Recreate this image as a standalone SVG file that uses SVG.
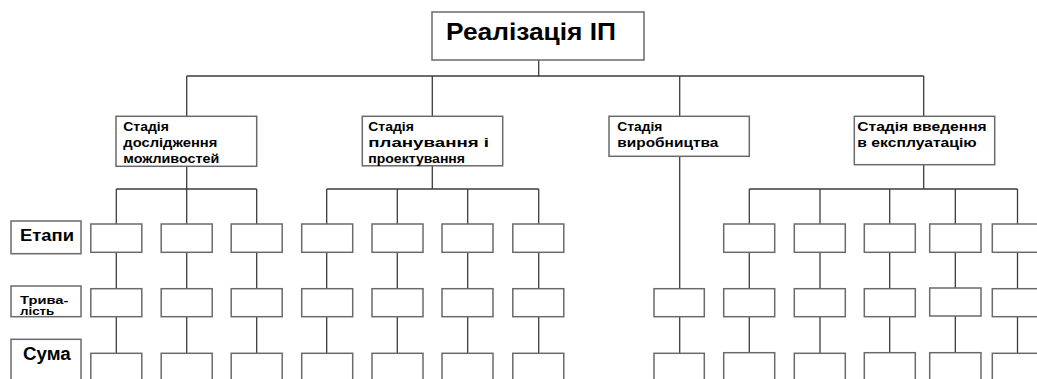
<svg xmlns="http://www.w3.org/2000/svg" width="1037" height="379" viewBox="0 0 1037 379">
<style>
.bx{fill:#fff;stroke:#6a6a6a;stroke-width:1.5}
.ln{fill:none;stroke:#3c3c3c;stroke-width:1.3}
.t{font-family:"Liberation Sans",Arial,sans-serif;font-weight:bold;fill:#000}
.st{font-size:13.5px}
</style>
<rect width="1037" height="379" fill="#fff"/>
<g id="connectors" class="ln">
<path d="M538.7 60V76M186.7 76H923.7M186.7 76V116.3M432.3 76V116.3M679.7 76V116.3M923.7 76V116.3"/>
<path d="M186.7 166.3V189M116.3 189H256.7M116.3 189V353.3M186.7 189V353.3M256.7 189V353.3"/>
<path d="M432.3 166V189M326.7 189H538.7M326.7 189V353.3M397.3 189V353.3M467.7 189V353.3M538.7 189V353.3"/>
<path d="M679.7 156.3V353.3"/>
<path d="M923.7 164.7V189M749.3 189H1017.5M749.3 189V353.3M820 189V353.3M889.7 189V353.3M955.3 189V353.3M1017.5 189V353.3"/>
</g>
<g id="title"><rect class="bx" x="432" y="12" width="212" height="48"/><text class="t" x="446" y="40" font-size="24" textLength="170" lengthAdjust="spacingAndGlyphs">Реалізація ІП</text></g>
<g id="stage1"><rect class="bx" x="116" y="116.3" width="140.7" height="50"/>
<text class="t st" x="123.3" y="131" textLength="45.5" lengthAdjust="spacingAndGlyphs">Стадія</text>
<text class="t st" x="123.3" y="147.3" textLength="94" lengthAdjust="spacingAndGlyphs">дослідження</text>
<text class="t st" x="123.3" y="163.2" textLength="96" lengthAdjust="spacingAndGlyphs">можливостей</text></g>
<g id="stage2"><rect class="bx" x="362.3" y="116.3" width="140.4" height="49.5"/>
<text class="t st" x="368.3" y="130.8" textLength="45.5" lengthAdjust="spacingAndGlyphs">Стадія</text>
<text class="t st" x="368.3" y="147.3" textLength="120.7" lengthAdjust="spacingAndGlyphs">планування і</text>
<text class="t st" x="368.3" y="163.2" textLength="96.7" lengthAdjust="spacingAndGlyphs">проектування</text></g>
<g id="stage3"><rect class="bx" x="609" y="116.3" width="140.3" height="40"/>
<text class="t st" x="617.3" y="130.8" textLength="45" lengthAdjust="spacingAndGlyphs">Стадія</text>
<text class="t st" x="617.3" y="147.3" textLength="101" lengthAdjust="spacingAndGlyphs">виробництва</text></g>
<g id="stage4"><rect class="bx" x="854.3" y="116.3" width="140.4" height="48.4"/>
<text class="t st" x="857.3" y="130.8" textLength="129.4" lengthAdjust="spacingAndGlyphs">Стадія введення</text>
<text class="t st" x="857.3" y="147.3" textLength="119.4" lengthAdjust="spacingAndGlyphs">в експлуатацію</text></g>
<g id="label-etapy"><rect class="bx" x="11" y="221" width="70" height="32.7"/><text class="t" x="20" y="241" font-size="17" textLength="54" lengthAdjust="spacingAndGlyphs">Етапи</text></g>
<g id="label-tryvalist"><rect class="bx" x="11" y="286" width="70" height="30.7"/><text class="t" x="20" y="303.8" font-size="11.5" textLength="48.3" lengthAdjust="spacingAndGlyphs">Трива-</text><text class="t" x="20" y="315.2" font-size="11" textLength="34.3" lengthAdjust="spacingAndGlyphs">лість</text></g>
<g id="label-suma"><rect class="bx" x="11" y="339.3" width="70" height="50"/><text class="t" x="23" y="359.5" font-size="18" textLength="47.7" lengthAdjust="spacingAndGlyphs">Сума</text></g>
<g id="s1c1e"><rect class="bx" x="90.8" y="224" width="51" height="28.3"/></g>
<g id="s1c1t"><rect class="bx" x="90.8" y="288.7" width="51" height="28"/></g>
<g id="s1c1s"><rect class="bx" x="90.8" y="353.3" width="51" height="40"/></g>
<g id="s1c2e"><rect class="bx" x="161.2" y="224" width="51" height="28.3"/></g>
<g id="s1c2t"><rect class="bx" x="161.2" y="288.7" width="51" height="28"/></g>
<g id="s1c2s"><rect class="bx" x="161.2" y="353.3" width="51" height="40"/></g>
<g id="s1c3e"><rect class="bx" x="231.2" y="224" width="51" height="28.3"/></g>
<g id="s1c3t"><rect class="bx" x="231.2" y="288.7" width="51" height="28"/></g>
<g id="s1c3s"><rect class="bx" x="231.2" y="353.3" width="51" height="40"/></g>
<g id="s2c1e"><rect class="bx" x="301.7" y="224" width="51" height="28.3"/></g>
<g id="s2c1t"><rect class="bx" x="301.7" y="288.7" width="51" height="28"/></g>
<g id="s2c1s"><rect class="bx" x="301.7" y="353.3" width="51" height="40"/></g>
<g id="s2c2e"><rect class="bx" x="372" y="224" width="51" height="28.3"/></g>
<g id="s2c2t"><rect class="bx" x="372" y="288.7" width="51" height="28"/></g>
<g id="s2c2s"><rect class="bx" x="372" y="353.3" width="51" height="40"/></g>
<g id="s2c3e"><rect class="bx" x="442" y="224" width="51" height="28.3"/></g>
<g id="s2c3t"><rect class="bx" x="442" y="288.7" width="51" height="28"/></g>
<g id="s2c3s"><rect class="bx" x="442" y="353.3" width="51" height="40"/></g>
<g id="s2c4e"><rect class="bx" x="512.8" y="224" width="51" height="28.3"/></g>
<g id="s2c4t"><rect class="bx" x="512.8" y="288.7" width="51" height="28"/></g>
<g id="s2c4s"><rect class="bx" x="512.8" y="353.3" width="51" height="40"/></g>
<g id="s3c1t"><rect class="bx" x="654" y="288.7" width="50.3" height="28"/></g>
<g id="s3c1s"><rect class="bx" x="654" y="353.3" width="50.3" height="40"/></g>
<g id="s4c1e"><rect class="bx" x="723.7" y="224" width="51" height="28.3"/></g>
<g id="s4c1t"><rect class="bx" x="723.7" y="288.7" width="51" height="28"/></g>
<g id="s4c1s"><rect class="bx" x="723.7" y="352.7" width="51" height="40"/></g>
<g id="s4c2e"><rect class="bx" x="794.3" y="224" width="51" height="28.3"/></g>
<g id="s4c2t"><rect class="bx" x="794.3" y="288.7" width="51" height="28"/></g>
<g id="s4c2s"><rect class="bx" x="794.3" y="353.3" width="51" height="40"/></g>
<g id="s4c3e"><rect class="bx" x="864.3" y="224" width="51" height="28.3"/></g>
<g id="s4c3t"><rect class="bx" x="864.3" y="288.7" width="51" height="28"/></g>
<g id="s4c3s"><rect class="bx" x="864.3" y="352.7" width="51" height="40"/></g>
<g id="s4c4e"><rect class="bx" x="929.7" y="224" width="51.3" height="28.3"/></g>
<g id="s4c4t"><rect class="bx" x="929.7" y="288" width="51.3" height="28"/></g>
<g id="s4c4s"><rect class="bx" x="929.7" y="352.7" width="51.3" height="40"/></g>
<g id="s4c5e"><rect class="bx" x="992.3" y="224" width="51" height="28.3"/></g>
<g id="s4c5t"><rect class="bx" x="992.3" y="288.7" width="51" height="28"/></g>
<g id="s4c5s"><rect class="bx" x="992.3" y="353.3" width="51" height="40"/></g>
</svg>
